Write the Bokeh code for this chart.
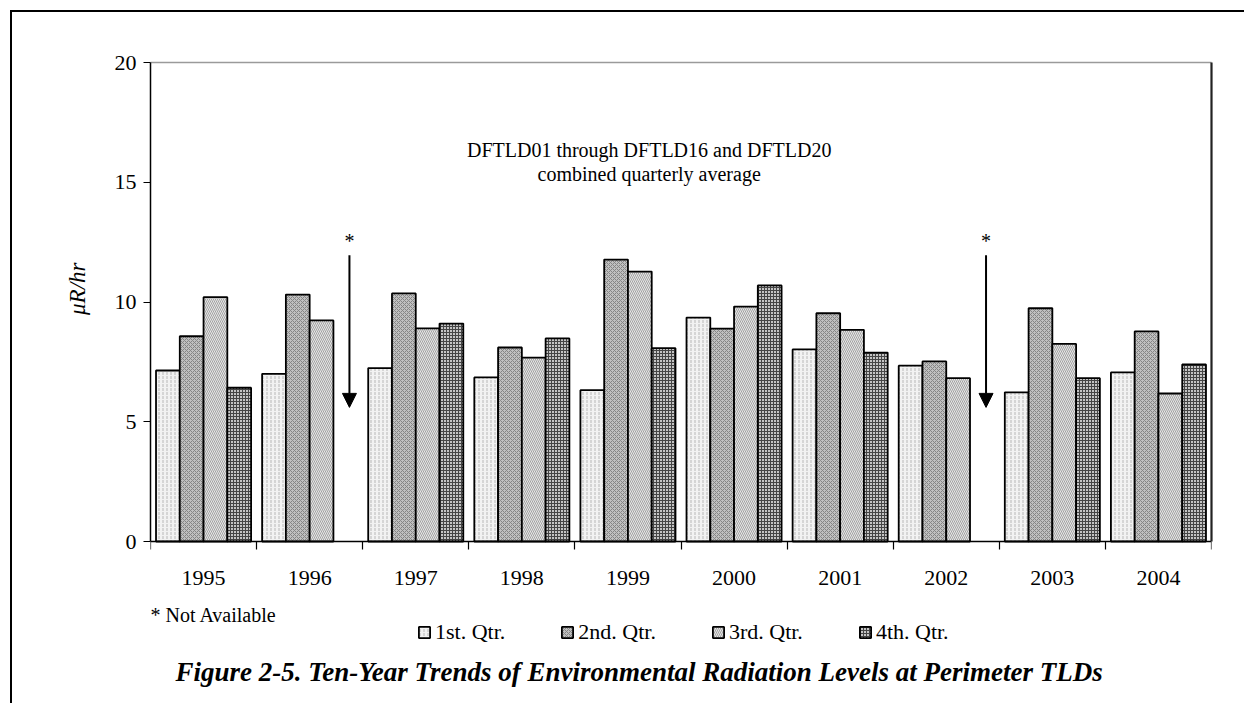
from bokeh.plotting import figure
from bokeh.models import (FixedTicker, Range1d, Label, Arrow, NormalHead,
                          Legend, LegendItem, LinearAxis, Title)
from bokeh.embed import file_html
from bokeh.resources import INLINE

# ---------------- data ----------------
years = ["1995", "1996", "1997", "1998", "1999", "2000", "2001", "2002", "2003", "2004"]
quarters = ["1st. Qtr.", "2nd. Qtr.", "3rd. Qtr.", "4th. Qtr."]
q1 = [7.14, 7.00, 7.24, 6.85, 6.32, 9.35, 8.02, 7.34, 6.23, 7.06]
q2 = [8.57, 10.31, 10.36, 8.10, 11.77, 8.89, 9.53, 7.52, 9.74, 8.77]
q3 = [10.20, 9.23, 8.90, 7.68, 11.27, 9.81, 8.84, 6.82, 8.25, 6.18]
q4 = [6.42, None, 9.10, 8.48, 8.07, 10.69, 7.89, None, 6.82, 7.39]
y_ticks = [0, 5, 10, 15, 20]
y_label = "\u03bcR/hr"
note_lines = ["DFTLD01 through DFTLD16 and DFTLD20", "combined quarterly average"]
missing_mark = "*"
missing_note = "* Not Available"
caption = "Figure 2-5. Ten-Year Trends of Environmental Radiation Levels at Perimeter TLDs"

series = [q1, q2, q3, q4]
FONT = "Liberation Serif"

# ---------------- styles ----------------
styles = [
    dict(fill_color="#f2f2f2", hatch_pattern="vertical_dash", hatch_color="#b8b8b8", hatch_scale=4, hatch_weight=1),
    dict(fill_color="#c0c0c0", hatch_pattern="diagonal_cross", hatch_color="#858585", hatch_scale=4, hatch_weight=1),
    dict(fill_color="#e6e6e6", hatch_pattern="left_diagonal_line", hatch_color="#a2a2a2", hatch_scale=4, hatch_weight=1),
    dict(fill_color="#c4c4c4", hatch_pattern="cross", hatch_color="#454545", hatch_scale=3, hatch_weight=1),
]

W, H = 1234, 693
PX_PER_UNIT = 23.95          # vertical scale of the chart area
Y_BOTTOM_PX = 164            # space below the zero line, in pixels
p = figure(width=W, height=H, output_backend="svg", toolbar_location=None,
           x_range=Range1d(0, len(years)),
           y_range=Range1d(y_ticks[0] - Y_BOTTOM_PX / PX_PER_UNIT, y_ticks[-1]),
           min_border_left=138, min_border_right=35, min_border_top=50, min_border_bottom=0)
p.margin = (10, 0, 0, 10)
p.styles = {"border-left": "2px solid black", "border-top": "2px solid black"}
p.grid.visible = False
p.background_fill_color = "white"
p.border_fill_color = "white"
p.outline_line_color = None

bw = 0.224
renderers = []
for k, vals in enumerate(series):
    xs = [i + 0.5 + (k - 1.5) * bw for i, v in enumerate(vals) if v is not None]
    ys = [v for v in vals if v is not None]
    r = p.vbar(x=xs, top=ys, bottom=0, width=bw, line_color="black", line_width=1.8, **styles[k])
    renderers.append(r)

# x axis (fixed at zero line)
xa = p.xaxis[0]
xa.fixed_location = 0
xa.ticker = FixedTicker(ticks=[i + 0.5 for i in range(len(years))],
                        minor_ticks=list(range(len(years) + 1)))
xa.major_label_overrides = {i + 0.5: y for i, y in enumerate(years)}
xa.major_tick_line_color = None
xa.major_tick_out = 8
xa.major_tick_in = 0
xa.minor_tick_out = 8
xa.minor_tick_in = 0
xa.minor_tick_line_color = "black"
xa.minor_tick_line_width = 1.2
xa.axis_line_color = "black"
xa.axis_line_width = 1.5
xa.major_label_standoff = 21
xa.major_label_text_font = FONT
xa.major_label_text_font_size = "22px"
xa.major_label_text_color = "black"

# y axis
ya = p.yaxis[0]
ya.bounds = (y_ticks[0], y_ticks[-1])
ya.ticker = FixedTicker(ticks=y_ticks, minor_ticks=[])
ya.major_tick_out = 7
ya.major_tick_in = 0
ya.major_tick_line_color = "black"
ya.major_tick_line_width = 1.2
ya.axis_line_color = "black"
ya.axis_line_width = 1.5
ya.major_label_standoff = 7
ya.major_label_text_font = FONT
ya.major_label_text_font_size = "22px"
ya.major_label_text_color = "black"

# y axis title, placed beside the 0-20 part of the axis
p.add_layout(Title(text=y_label, align="right", offset=200, standoff=43,
                   text_font=FONT, text_font_size="23px", text_font_style="italic",
                   text_color="black"), "left")

# frame edges: top (grey) and right (dark)
top_ax = LinearAxis(ticker=FixedTicker(ticks=[]), axis_line_color="#9a9a9a", axis_line_width=1.5,
                    major_tick_line_color=None, minor_tick_line_color=None)
p.add_layout(top_ax, "above")
right_ax = LinearAxis(ticker=FixedTicker(ticks=[]), bounds=(y_ticks[0], y_ticks[-1]),
                      axis_line_color="#222222", axis_line_width=2.2,
                      major_tick_line_color=None, minor_tick_line_color=None)
p.add_layout(right_ax, "right")

# annotation text
for j, t in enumerate(note_lines):
    p.add_layout(Label(x=4.7, y=16.33 - j * 0.97, text=t, text_align="center", text_baseline="middle",
                       text_font=FONT, text_font_size="20px", text_color="black"))

# missing-data markers
for i, v in enumerate(q4):
    if v is None:
        xm = i + 0.5 + 0.375
        p.add_layout(Label(x=xm, y=12.55, text=missing_mark, text_align="center", text_baseline="middle",
                           text_font=FONT, text_font_size="20px", text_color="black"))
        p.add_layout(Arrow(x_start=xm, y_start=11.95, x_end=xm, y_end=5.6,
                           line_color="black", line_width=2,
                           end=NormalHead(size=14, fill_color="black", line_color="black")))

# note, legend, caption below the zero line (inside the frame)
p.add_layout(Label(x=0, y=-3.05, text=missing_note, text_align="left", text_baseline="middle",
                   text_font=FONT, text_font_size="20px", text_color="black"))

items = [LegendItem(label=q, renderers=[r]) for q, r in zip(quarters, renderers)]
legend = Legend(items=items, orientation="horizontal", location=(267, 60),
                glyph_width=14, glyph_height=14, label_standoff=4, spacing=55,
                padding=0, margin=0, border_line_color=None, background_fill_alpha=0,
                label_text_font=FONT, label_text_font_size="22px", label_text_color="black")
p.add_layout(legend, "center")

p.add_layout(Label(x=0.236, y=-5.43, text=caption, text_align="left", text_baseline="middle",
                   text_font=FONT, text_font_size="27px", text_font_style="bold italic",
                   text_color="black"))

open("out.html", "w").write(file_html(p, INLINE))
